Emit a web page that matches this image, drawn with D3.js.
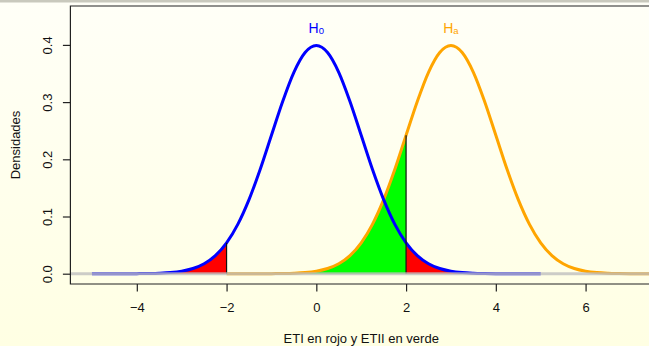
<!DOCTYPE html>
<html>
<head>
<meta charset="utf-8">
<script src="https://cdn.jsdelivr.net/npm/d3@7"></script>
<style>
html,body{margin:0;padding:0;background:#fffff0;}
svg{display:block;font-family:"Liberation Sans",Arial,Helvetica,sans-serif;}
</style>
</head>
<body>
<svg id="chart" width="649" height="346"></svg>
<script>
// ---- data ----
const xTicks = [-4, -2, 0, 2, 4, 6];
const yTicks = [0.0, 0.1, 0.2, 0.3, 0.4];
const yTickLabels = ["0.0", "0.1", "0.2", "0.3", "0.4"];
const xLabel = "ETI en rojo y ETII en verde";
const yLabel = "Densidades";
const cutoffs = [-2, 2];
// H0 density curve (mean 0)
const h0X = [-5,-4.75,-4.5,-4.25,-4,-3.75,-3.5,-3.25,-3,-2.75,-2.5,-2.25,-2,-1.75,-1.5,-1.25,-1,-0.75,-0.5,-0.25,
             0,0.25,0.5,0.75,1,1.25,1.5,1.75,2,2.25,2.5,2.75,3,3.25,3.5,3.75,4,4.25,4.5,4.75,5];
const h0Y = [0.0000,0.0000,0.0000,0.0000,0.0001,0.0004,0.0009,0.0020,0.0044,0.0091,0.0175,0.0317,0.0540,0.0863,0.1295,0.1826,0.2420,0.3011,0.3521,0.3867,
             0.3989,0.3867,0.3521,0.3011,0.2420,0.1826,0.1295,0.0863,0.0540,0.0317,0.0175,0.0091,0.0044,0.0020,0.0009,0.0004,0.0001,0.0000,0.0000,0.0000,0.0000];
// Ha density curve (mean 3)
const haX = [-2,-1.75,-1.5,-1.25,-1,-0.75,-0.5,-0.25,0,0.25,0.5,0.75,1,1.25,1.5,1.75,2,2.25,2.5,2.75,
             3,3.25,3.5,3.75,4,4.25,4.5,4.75,5,5.25,5.5,5.75,6,6.25,6.5,6.75,7,7.25,7.5,7.75,8];
const haY = [0.0000,0.0000,0.0000,0.0000,0.0001,0.0004,0.0009,0.0020,0.0044,0.0091,0.0175,0.0317,0.0540,0.0863,0.1295,0.1826,0.2420,0.3011,0.3521,0.3867,
             0.3989,0.3867,0.3521,0.3011,0.2420,0.1826,0.1295,0.0863,0.0540,0.0317,0.0175,0.0091,0.0044,0.0020,0.0009,0.0004,0.0001,0.0000,0.0000,0.0000,0.0000];
const redLeftRange = [-4, -2];
const redRightRange = [2, 4];
const greenRange = [-2, 2];

// ---- layout ----
const W = 649, H = 346;
const plot = {left: 70.4, right: 652, top: 6, bottom: 284};
const svg = d3.select("#chart");

const defs = svg.append("defs");
const grad = defs.append("linearGradient").attr("id","bg").attr("x1",0).attr("y1",0).attr("x2",0).attr("y2",1);
grad.append("stop").attr("offset","0%").attr("stop-color","#fffff7");
grad.append("stop").attr("offset","100%").attr("stop-color","#ffffe3");
defs.append("clipPath").attr("id","clip").append("rect")
  .attr("x",plot.left).attr("y",plot.top).attr("width",plot.right-plot.left).attr("height",plot.bottom-plot.top);

svg.append("rect").attr("width",W).attr("height",H).attr("fill","url(#bg)");
svg.append("rect").attr("x",0).attr("y",0).attr("width",W).attr("height",2.5).attr("fill","#c9c9bd");

const x = d3.scaleLinear().domain([-5.48, 7.48]).range([plot.left, plot.right]);
const y = d3.scaleLinear().domain([-0.018, 0.468]).range([plot.bottom, plot.top]);

const h0 = h0X.map((v,i)=>({x:v,y:h0Y[i]}));
const ha = haX.map((v,i)=>({x:v,y:haY[i]}));

const line = d3.line().x(d=>x(d.x)).y(d=>y(d.y)).curve(d3.curveMonotoneX);
const area = d3.area().x(d=>x(d.x)).y0(y(0)).y1(d=>y(d.y)).curve(d3.curveMonotoneX);

const g = svg.append("g").attr("clip-path","url(#clip)");

const inRange = (data, r) => data.filter(d => d.x >= r[0]-1e-9 && d.x <= r[1]+1e-9);

g.append("path").datum(inRange(ha, greenRange)).attr("d", area).attr("fill","#00ff00");
g.append("path").datum(inRange(h0, redLeftRange)).attr("d", area).attr("fill","#ff0000");
g.append("path").datum(inRange(h0, redRightRange)).attr("d", area).attr("fill","#ff0000");

g.append("path").datum(ha).attr("d", line).attr("fill","none").attr("stroke","#ffa500").attr("stroke-width",3);
g.append("path").datum(h0).attr("d", line).attr("fill","none").attr("stroke","#0000ff").attr("stroke-width",3);

// vertical cutoff segments
const segTop = [h0.find(d=>d.x===cutoffs[0]).y, ha.find(d=>d.x===cutoffs[1]).y];
cutoffs.forEach((c,i)=>{
  g.append("line").attr("x1",x(c)).attr("x2",x(c)).attr("y1",y(0)).attr("y2",y(segTop[i]))
   .attr("stroke","#111").attr("stroke-width",1.2);
});

// baseline
g.append("line").attr("x1",plot.left).attr("x2",plot.right).attr("y1",y(0)).attr("y2",y(0))
  .attr("stroke","#bebebe").attr("stroke-opacity",0.78).attr("stroke-width",3);

// labels H0, Ha
const lab = [{t:"H",s:"0",x:0,c:"#0000ff"},{t:"H",s:"a",x:3,c:"#ffa500"}];
lab.forEach(l=>{
  const t = svg.append("text").attr("x",x(l.x)).attr("y",32.5).attr("text-anchor","middle")
    .attr("fill",l.c).attr("font-size",14);
  t.append("tspan").text(l.t);
  t.append("tspan").text(l.s).attr("font-size",9.5).attr("dy",1.5);
});

// box
svg.append("path")
  .attr("d",`M${W+2},${plot.top}H${plot.left}V${plot.bottom}H${W+2}`)
  .attr("fill","none").attr("stroke","#222").attr("stroke-width",1.2);

// x axis
const xAxis = d3.axisBottom(x).tickValues(xTicks).tickSize(7.5).tickPadding(5)
  .tickFormat(d => d < 0 ? "\u2212" + Math.abs(d) : String(d));
const xa = svg.append("g").attr("transform",`translate(0,${plot.bottom})`).call(xAxis);
xa.select(".domain").remove();
xa.selectAll(".tick line").attr("stroke","#222").attr("stroke-width",1.2);
xa.selectAll(".tick text").attr("font-size",13).attr("fill","#111")
  .attr("font-family","Liberation Sans, Arial, sans-serif").attr("dy","0.71em").attr("y",18.5);

// y axis
const yAxis = d3.axisLeft(y).tickValues(yTicks).tickSize(7.5).tickFormat((d,i)=>yTickLabels[i]);
const ya = svg.append("g").attr("transform",`translate(${plot.left},0)`).call(yAxis);
ya.select(".domain").remove();
ya.selectAll(".tick line").attr("stroke","#222").attr("stroke-width",1.2);
ya.selectAll(".tick text").attr("font-size",13).attr("fill","#111")
  .attr("font-family","Liberation Sans, Arial, sans-serif")
  .attr("x",null).attr("dy",null).attr("text-anchor","middle")
  .attr("transform",`translate(${51.5-plot.left},0) rotate(-90)`);

// axis titles
svg.append("text").attr("x",(plot.left+plot.right)/2).attr("y",342.5).attr("text-anchor","middle")
  .attr("font-size",13).attr("fill","#111").text(xLabel);
svg.append("text").attr("transform",`translate(19.5,${(plot.top+plot.bottom)/2}) rotate(-90)`)
  .attr("text-anchor","middle").attr("font-size",13).attr("fill","#111").text(yLabel);
</script>
</body>
</html>
